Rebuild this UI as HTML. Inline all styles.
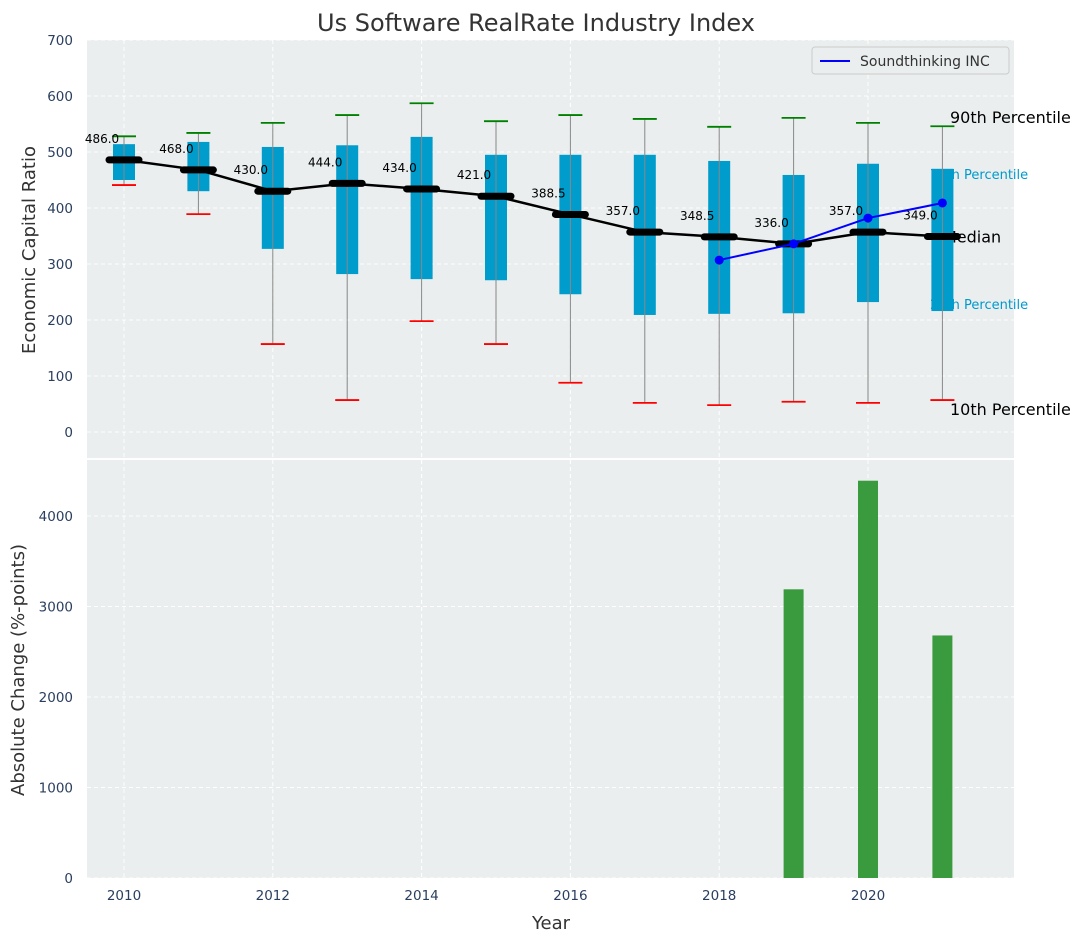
<!DOCTYPE html>
<html><head><meta charset="utf-8"><style>
body{margin:0;background:#fff;}
svg{display:block;font-family:"DejaVu Sans","Liberation Sans",sans-serif;}
</style></head><body>
<svg id="c" width="1085" height="942"></svg>
<script>
const years=[2010,2011,2012,2013,2014,2015,2016,2017,2018,2019,2020,2021];
const medians=[486,468,430,444,434,421,388.5,357,348.5,336,357,349];
const q1=[450,430,327,282,273,271,246,209,211,212,232,216];
const q3=[514,518,509,512,527,495,495,495,484,459,479,470];
const p10=[441,389,157,57,198,157,88,52,48,54,52,57];
const p90=[528,534,552,566,587,555,566,559,545,561,552,546];
const compYears=[2018,2019,2020,2021];
const compVals=[307,336,382,409];
const barYears=[2019,2020,2021];
const barVals=[3190,4390,2680];
const yTicksTop=[0,100,200,300,400,500,600,700];
const yTicksBot=[0,1000,2000,3000,4000];
const xTicks=[2010,2012,2014,2016,2018,2020];

const NS="http://www.w3.org/2000/svg";
const svg=document.getElementById('c');
function el(t,a,txt){const e=document.createElementNS(NS,t);for(const k in a)e.setAttribute(k,a[k]);if(txt!==undefined)e.textContent=txt;svg.appendChild(e);return e;}
const X=v=>124+(v-2010)*74.4;
const YT=v=>432-v*0.56;
const YB=v=>878-v*0.0905;
const L=87,R=1014;

let e;
e=el('rect',{x:L,y:40,width:R-L,height:418,fill:'#eaeeee'});

e=el('rect',{x:L,y:460,width:R-L,height:418,fill:'#eaeeee'});


xTicks.forEach(t=>{
 el('line',{x1:X(t),x2:X(t),y1:40,y2:458,stroke:'#fff','stroke-dasharray':'4,3','stroke-width':1});
 el('line',{x1:X(t),x2:X(t),y1:460,y2:878,stroke:'#fff','stroke-dasharray':'4,3','stroke-width':1});
 e=el('text',{x:X(t),y:900,'text-anchor':'middle','font-size':13.5,fill:'#2a3f5f'},t);
 
});
yTicksTop.forEach(t=>{
 el('line',{x1:L,x2:R,y1:YT(t),y2:YT(t),stroke:'#fff','stroke-dasharray':'4,3','stroke-width':1});
 e=el('text',{x:73,y:YT(t)+5,'text-anchor':'end','font-size':13.5,fill:'#2a3f5f'},t);
 
});
yTicksBot.forEach(t=>{
 el('line',{x1:L,x2:R,y1:YB(t),y2:YB(t),stroke:'#fff','stroke-dasharray':'4,3','stroke-width':1});
 e=el('text',{x:73,y:YB(t)+5,'text-anchor':'end','font-size':13.5,fill:'#2a3f5f'},t);
 
});

const last=years.length-1;
[['90th Percentile',p90[last],'#000',16,950,-3],['75th Percentile',q3[last],'#0099cc',13,930,10],['Median',medians[last],'#000',16,943,6],['25th Percentile',q1[last],'#0099cc',13,930,-2],['10th Percentile',p10[last],'#000',16,950,15]].forEach(d=>{
 e=el('text',{x:d[4],y:YT(d[1])+d[5],'font-size':d[3],fill:d[2]},d[0]);
 
});

years.forEach((y,i)=>{
 const x=X(y);
 e=el('rect',{x:x-11,y:YT(q3[i]),width:22,height:YT(q1[i])-YT(q3[i]),fill:'#009ccc'});
 
 el('line',{x1:x,x2:x,y1:YT(p90[i]),y2:YT(p10[i]),stroke:'#888','stroke-width':1});
 el('line',{x1:x-12,x2:x+12,y1:YT(p90[i]),y2:YT(p90[i]),stroke:'green','stroke-width':1.8});
 el('line',{x1:x-12,x2:x+12,y1:YT(p10[i]),y2:YT(p10[i]),stroke:'red','stroke-width':1.8});
});
e=el('polyline',{points:years.map((y,i)=>X(y)+','+YT(medians[i])).join(' '),fill:'none',stroke:'#000','stroke-width':2.5});

years.forEach((y,i)=>{
 e=el('line',{x1:X(y)-15,x2:X(y)+15,y1:YT(medians[i]),y2:YT(medians[i]),stroke:'#000','stroke-width':7,'stroke-linecap':'round'});
 
 e=el('text',{x:X(y)-22,y:YT(medians[i])-17,'text-anchor':'middle','font-size':12,fill:'#000'},medians[i].toFixed(1));
 
});
e=el('polyline',{points:compYears.map((y,i)=>X(y)+','+YT(compVals[i])).join(' '),fill:'none',stroke:'blue','stroke-width':2});

compYears.forEach((y,i)=>{
 e=el('circle',{cx:X(y),cy:YT(compVals[i]),r:4.5,fill:'blue'});
 
});
barYears.forEach((y,i)=>{
 e=el('rect',{x:X(y)-10,y:YB(barVals[i]),width:20,height:878-YB(barVals[i]),fill:'#3a9a3e'});
 
});
e=el('rect',{x:812,y:47,width:197,height:27,fill:'#eaeeee',stroke:'#ccc',rx:3});

el('line',{x1:820,x2:850,y1:61,y2:61,stroke:'blue','stroke-width':2});
e=el('text',{x:860,y:66,'font-size':14,fill:'#333'},'Soundthinking INC');

e=el('text',{x:536,y:31,'text-anchor':'middle','font-size':24,fill:'#333'},'Us Software RealRate Industry Index');

e=el('text',{x:551,y:929,'text-anchor':'middle','font-size':18,fill:'#333'},'Year');

e=el('text',{x:0,y:0,'text-anchor':'middle','font-size':18,fill:'#333',transform:'translate(35,250) rotate(-90)'},'Economic Capital Ratio');

e=el('text',{x:0,y:0,'text-anchor':'middle','font-size':18,fill:'#333',transform:'translate(24,670) rotate(-90)'},'Absolute Change (%-points)');

</script>
</body></html>
